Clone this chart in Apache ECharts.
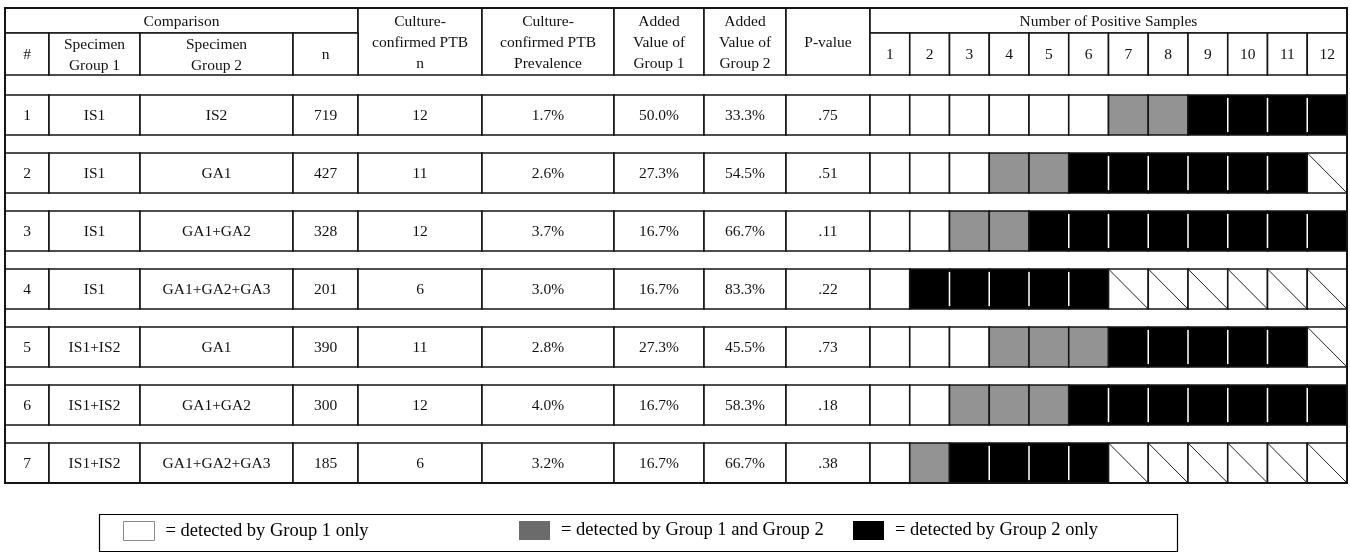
<!DOCTYPE html>
<html><head><meta charset="utf-8">
<script src="https://cdn.jsdelivr.net/npm/echarts@6/dist/echarts.min.js"></script>
<style>html,body{margin:0;padding:0;background:#fff}#main{width:1350px;height:560px}</style>
</head><body><div id="main"></div>
<script>
// ---------------- DATA ----------------
const rowIds      = ['1','2','3','4','5','6','7'];
const group1      = ['IS1','IS1','IS1','IS1','IS1+IS2','IS1+IS2','IS1+IS2'];
const group2      = ['IS2','GA1','GA1+GA2','GA1+GA2+GA3','GA1','GA1+GA2','GA1+GA2+GA3'];
const nTotal      = [719, 427, 328, 201, 390, 300, 185];
const ptbN        = [12, 11, 12, 6, 11, 12, 6];
const prevalence  = ['1.7%','2.6%','3.7%','3.0%','2.8%','4.0%','3.2%'];
const addedG1     = ['50.0%','27.3%','16.7%','16.7%','27.3%','16.7%','16.7%'];
const addedG2     = ['33.3%','54.5%','66.7%','83.3%','45.5%','58.3%','66.7%'];
const pValues     = ['.75','.51','.11','.22','.73','.18','.38'];
// counts of positive samples per comparison (in display order: G1 only, both, G2 only)
const detectG1Only = [6, 3, 2, 1, 3, 2, 1];
const detectBoth   = [2, 2, 2, 0, 3, 3, 1];
const detectG2Only = [4, 6, 8, 5, 5, 7, 4];
const sampleTicks  = ['1','2','3','4','5','6','7','8','9','10','11','12'];
const headerTop    = ['Comparison','Culture-\nconfirmed PTB\nn','Culture-\nconfirmed PTB\nPrevalence','Added\nValue of\nGroup 1','Added\nValue of\nGroup 2','P-value','Number of Positive Samples'];
const headerSub    = ['#','Specimen\nGroup 1','Specimen\nGroup 2','n'];
const legendLabels = ['= detected by Group 1 only','= detected by Group 1 and Group 2','= detected by Group 2 only'];

// ---------------- LAYOUT ----------------
const FONT = '"Liberation Serif", "Times New Roman", serif';
const FS = 15.5, LH = 21;
const colWidths = [44, 91, 153, 65, 124, 132, 90, 82, 84];
const SAMPLE_W = 39.75;
const colEdges = [0];
colWidths.forEach(w => colEdges.push(colEdges[colEdges.length-1] + w));
sampleTicks.forEach(() => colEdges.push(colEdges[colEdges.length-1] + SAMPLE_W));
const TOTAL_W = colEdges[colEdges.length-1];
const H_A = 25, H_B = 67, ROW0 = 87, PITCH = 58, ROWH = 40;
const TOTAL_H = ROW0 + PITCH*(rowIds.length-1) + ROWH;
const rowTop = i => ROW0 + PITCH*i;
const SC = colWidths.length; // first sample column index

// ---------------- BUILD CELLS ----------------
const textCells = [];
function addText(c0, c1, y0, y1, text){ textCells.push({v:[colEdges[c0], y0, colEdges[c1], y1], text:String(text)}); }
addText(0, 4, 0, H_A, headerTop[0]);
for (let k=0;k<5;k++) addText(4+k, 5+k, 0, H_B, headerTop[1+k]);
addText(SC, SC+sampleTicks.length, 0, H_A, headerTop[6]);
headerSub.forEach((t,i)=>addText(i, i+1, H_A, H_B, t));
sampleTicks.forEach((t,i)=>addText(SC+i, SC+i+1, H_A, H_B, t));
rowIds.forEach((id, r) => {
  const cols = [id, group1[r], group2[r], nTotal[r], ptbN[r], prevalence[r], addedG1[r], addedG2[r], pValues[r]];
  cols.forEach((t,c)=>addText(c, c+1, rowTop(r), rowTop(r)+ROWH, t));
});

const whiteCells = [], greyCells = [], blackCells = [], naCells = [];
rowIds.forEach((id, r) => {
  let c = 0;
  for (let k=0;k<detectG1Only[r];k++) whiteCells.push([c++, r, 0]);
  for (let k=0;k<detectBoth[r];k++) greyCells.push([c++, r, 0]);
  for (let k=0;k<detectG2Only[r];k++) { blackCells.push([c, r, k>0 ? 1 : 0]); c++; }
  while (c < sampleTicks.length) naCells.push([c++, r, 0]);
});

const STROKE = '#151515';
function cellRect(api){
  const col = api.value(0), row = api.value(1);
  const p0 = api.coord([colEdges[SC+col], rowTop(row)]);
  const p1 = api.coord([colEdges[SC+col+1], rowTop(row)+ROWH]);
  return {x:p0[0], y:p0[1], w:p1[0]-p0[0], h:p1[1]-p0[1]};
}
function sampleRender(fill){
  return function(params, api){
    const b = cellRect(api);
    const children = [{type:'rect', shape:{x:b.x, y:b.y, width:b.w, height:b.h}, style:{fill:fill, stroke:STROKE, lineWidth:1.6}}];
    if (fill === '#000' && api.value(2) === 1) {
      children.push({type:'line', shape:{x1:b.x, y1:b.y+3, x2:b.x, y2:b.y+b.h-3}, style:{stroke:'#fff', lineWidth:1.5}});
    }
    if (fill === 'na') {
      children[0].style.fill = '#fff';
      children.push({type:'line', shape:{x1:b.x, y1:b.y, x2:b.x+b.w, y2:b.y+b.h}, style:{stroke:'#222', lineWidth:1}});
    }
    return {type:'group', children};
  };
}

const option = {
  animation: false,
  backgroundColor: '#fff',
  grid: {left: 5, top: 8, width: TOTAL_W, height: TOTAL_H},
  xAxis: {type:'value', min:0, max:TOTAL_W, show:false},
  yAxis: {type:'value', min:0, max:TOTAL_H, inverse:true, show:false},
  graphic: [{type:'rect', left:97, top:512, shape:{width:1078, height:37}, style:{fill:'none', stroke:'#000', lineWidth:1.2}, z:1}],
  legend: [
    {left:123, top:521, data:[{name:legendLabels[0], itemStyle:{color:'#fff', borderColor:'#8a8a8a', borderWidth:1}}]},
    {left:519, top:521, data:[{name:legendLabels[1], itemStyle:{color:'#6b6b6b', borderWidth:0}}]},
    {left:853, top:521, data:[{name:legendLabels[2], itemStyle:{color:'#000', borderWidth:0}}]}
  ].map(l => Object.assign({icon:'rect', itemWidth:31, itemHeight:19, selectedMode:false, padding:0,
      textStyle:{fontFamily:FONT, fontSize:18.5, color:'#000', padding:[0,0,0,6]}}, l)),
  series: [
    {
      type:'custom', name:'table', silent:true,
      data: textCells.map(c=>c.v),
      renderItem: function(params, api){
        const p0 = api.coord([api.value(0), api.value(1)]);
        const p1 = api.coord([api.value(2), api.value(3)]);
        return {type:'group', children:[
          {type:'rect', shape:{x:p0[0], y:p0[1], width:p1[0]-p0[0], height:p1[1]-p0[1]}, style:{fill:'#fff', stroke:STROKE, lineWidth:1.6}},
          {type:'text', style:{text:textCells[params.dataIndex].text, x:(p0[0]+p1[0])/2, y:(p0[1]+p1[1])/2+1,
            align:'center', verticalAlign:'middle', fontFamily:FONT, fontSize:FS, lineHeight:LH, fill:'#111'}}
        ]};
      }
    },
    {type:'custom', name:legendLabels[0], silent:true, itemStyle:{color:'#fff', borderColor:'#8a8a8a'}, data:whiteCells, renderItem:sampleRender('#fff')},
    {type:'custom', name:legendLabels[1], silent:true, itemStyle:{color:'#6b6b6b'}, data:greyCells, renderItem:sampleRender('#939393')},
    {type:'custom', name:legendLabels[2], silent:true, itemStyle:{color:'#000'}, data:blackCells, renderItem:sampleRender('#000')},
    {type:'custom', name:'n/a', silent:true, data:naCells, renderItem:sampleRender('na')},
    {
      type:'custom', name:'frame', silent:true, z:5,
      data:[[0,0,TOTAL_W,TOTAL_H]],
      renderItem: function(params, api){
        const p0 = api.coord([api.value(0), api.value(1)]);
        const p1 = api.coord([api.value(2), api.value(3)]);
        return {type:'rect', shape:{x:p0[0], y:p0[1], width:p1[0]-p0[0], height:p1[1]-p0[1]}, style:{fill:'none', stroke:STROKE, lineWidth:2}};
      }
    }
  ]
};
const chart = echarts.init(document.getElementById('main'), null, {renderer:'canvas'});
chart.setOption(option);
</script>
</body></html>
